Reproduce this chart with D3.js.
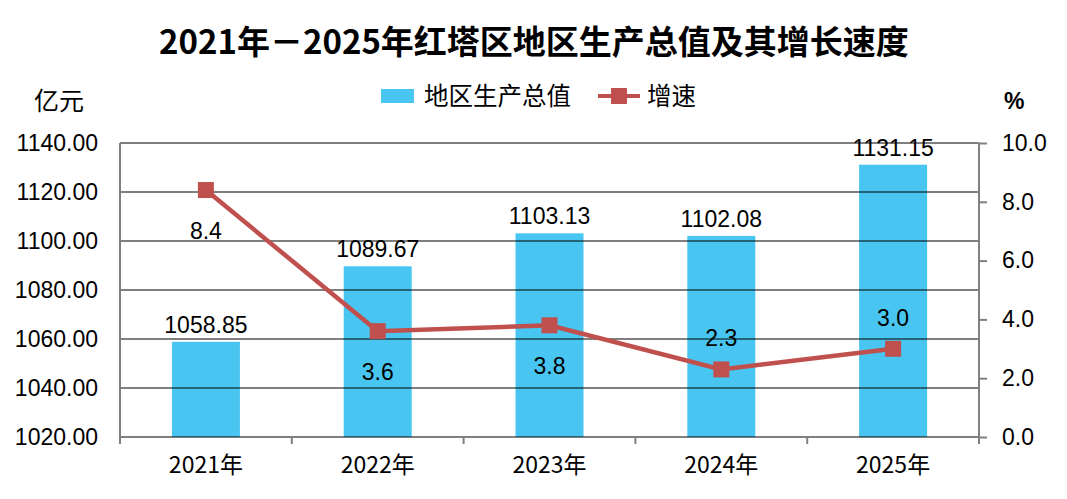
<!DOCTYPE html>
<html>
<head>
<meta charset="utf-8">
<script src="https://cdn.jsdelivr.net/npm/d3@7"></script>
<style>
  body { margin: 0; background: #fff; }
  text { font-family: "Liberation Sans", "Noto Sans CJK SC", sans-serif; fill: #000; }
  .cjk { font-family: "Noto Sans CJK SC", sans-serif; }
</style>
</head>
<body>
<div id="chart-area"></div>
<script>
const years = ['2021年', '2022年', '2023年', '2024年', '2025年']
const gdp = [1058.85, 1089.67, 1103.13, 1102.08, 1131.15]
const growth = [8.4, 3.6, 3.8, 2.3, 3.0]
const leftTicks = [1020, 1040, 1060, 1080, 1100, 1120, 1140]
const rightTicks = [0, 2, 4, 6, 8, 10]
// where the growth label sits relative to its point
const growthLabelSide = ['below', 'below', 'below', 'above', 'above']

const W = 1067, H = 499
const margin = { top: 143, left: 120, right: 88, bottom: 62 }
const width = W - margin.left - margin.right
const height = H - margin.top - margin.bottom

const barColor = '#48C5F1'
const lineColor = '#C0504D'
const gridColor = '#808080'

const svg = d3.select('#chart-area')
              .append('svg')
              .attr('width', W)
              .attr('height', H)

svg.append('text')
   .attr('class', 'cjk')
   .attr('x', 534)
   .attr('y', 54)
   .attr('text-anchor', 'middle')
   .attr('font-size', '33px')
   .attr('font-weight', 'bold')
   .text('2021年－2025年红塔区地区生产总值及其增长速度')

svg.append('text')
   .attr('class', 'cjk')
   .attr('x', 34)
   .attr('y', 110)
   .attr('font-size', '25px')
   .text('亿元')

svg.append('text')
   .attr('x', 1004)
   .attr('y', 109)
   .attr('font-size', '23px')
   .attr('font-weight', 'bold')
   .text('%')

// LEGEND
const legend = svg.append('g')
legend.append('rect')
      .attr('x', 381).attr('y', 89)
      .attr('width', 33).attr('height', 14)
      .attr('fill', barColor)
legend.append('text')
      .attr('class', 'cjk')
      .attr('x', 424).attr('y', 105)
      .attr('font-size', '24.5px')
      .text('地区生产总值')
legend.append('line')
      .attr('x1', 598).attr('x2', 640)
      .attr('y1', 96).attr('y2', 96)
      .attr('stroke', lineColor).attr('stroke-width', 4)
legend.append('rect')
      .attr('x', 611).attr('y', 88)
      .attr('width', 16).attr('height', 16)
      .attr('fill', lineColor)
legend.append('text')
      .attr('class', 'cjk')
      .attr('x', 647).attr('y', 105)
      .attr('font-size', '24.5px')
      .text('增速')

const g = svg.append('g')
             .attr('transform', 'translate(' + margin.left + ',' + margin.top + ')')

const xc = d3.scaleBand().domain(years).range([0, width])

const y = d3.scaleLinear()
            .domain([1020, 1140])
            .range([height, 0])

const y2 = d3.scaleLinear()
             .domain([0, 10])
             .range([height, 0])

// BARS
g.selectAll('.bar')
 .data(gdp)
 .enter()
 .append('rect')
 .attr('class', 'bar')
 .attr('x', (d, i) => xc(years[i]) + xc.bandwidth() / 2 - 34)
 .attr('y', d => y(d))
 .attr('width', 68)
 .attr('height', d => height - y(d))
 .attr('fill', barColor)

// GRIDLINES (over bars, semi transparent)
g.selectAll('.grid')
 .data(leftTicks)
 .enter()
 .append('line')
 .attr('x1', 0).attr('x2', width)
 .attr('y1', d => y(d)).attr('y2', d => y(d))
 .attr('stroke', '#000')
 .attr('stroke-opacity', 0.5)
 .attr('stroke-width', 2)

// LEFT AXIS
const yAxisCall = d3.axisLeft(y)
                    .tickValues(leftTicks)
                    .tickSize(0)
                    .tickPadding(22)
                    .tickFormat(d => d.toFixed(2))
const yAxis = g.append('g').call(yAxisCall)
yAxis.select('.domain').remove()
yAxis.selectAll('text').attr('font-size', '23px').attr('font-family', 'Liberation Sans')
g.append('line')
 .attr('x1', 0).attr('x2', 0)
 .attr('y1', 0).attr('y2', height + 7)
 .attr('stroke', gridColor).attr('stroke-width', 2)

// RIGHT AXIS
const y2AxisCall = d3.axisRight(y2)
                     .tickValues(rightTicks)
                     .tickSize(8)
                     .tickPadding(15)
                     .tickFormat(d => d.toFixed(1))
const y2Axis = g.append('g')
                .attr('transform', 'translate(' + width + ',0)')
                .call(y2AxisCall)
y2Axis.select('.domain').remove()
y2Axis.selectAll('line').attr('stroke', gridColor).attr('stroke-width', 2)
y2Axis.selectAll('text').attr('font-size', '23px').attr('font-family', 'Liberation Sans')
g.append('line')
 .attr('x1', width).attr('x2', width)
 .attr('y1', 0).attr('y2', height + 7)
 .attr('stroke', gridColor).attr('stroke-width', 2)

// X AXIS
const xAxisCall = d3.axisBottom(xc).tickSize(0).tickPadding(20)
const xAxis = g.append('g')
               .attr('transform', 'translate(0,' + height + ')')
               .call(xAxisCall)
xAxis.select('.domain').remove()
xAxis.selectAll('text').attr('font-size', '23px').attr('class', 'cjk')
g.selectAll('.xtick')
 .data(d3.range(years.length + 1))
 .enter()
 .append('line')
 .attr('x1', i => i * xc.step()).attr('x2', i => i * xc.step())
 .attr('y1', height).attr('y2', height + 7)
 .attr('stroke', gridColor).attr('stroke-width', 2)

// BAR LABELS
g.selectAll('.bar-label')
 .data(gdp)
 .enter()
 .append('text')
 .attr('x', (d, i) => xc(years[i]) + xc.bandwidth() / 2)
 .attr('y', d => y(d) - 9)
 .attr('text-anchor', 'middle')
 .attr('font-size', '23px')
 .text(d => d.toFixed(2))

// GROWTH LINE
const cx = (d, i) => xc(years[i]) + xc.bandwidth() / 2
const line = d3.line()
               .x((d, i) => cx(d, i))
               .y(d => y2(d))
g.append('path')
 .datum(growth)
 .attr('d', line)
 .attr('fill', 'none')
 .attr('stroke', lineColor)
 .attr('stroke-width', 4.5)

g.selectAll('.marker')
 .data(growth)
 .enter()
 .append('rect')
 .attr('x', (d, i) => cx(d, i) - 8)
 .attr('y', d => y2(d) - 8)
 .attr('width', 16)
 .attr('height', 16)
 .attr('fill', lineColor)

g.selectAll('.growth-label')
 .data(growth)
 .enter()
 .append('text')
 .attr('x', (d, i) => cx(d, i))
 .attr('y', (d, i) => y2(d) + (growthLabelSide[i] === 'below' ? 49 : -23))
 .attr('text-anchor', 'middle')
 .attr('font-size', '23px')
 .text(d => d.toFixed(1))
</script>
</body>
</html>
